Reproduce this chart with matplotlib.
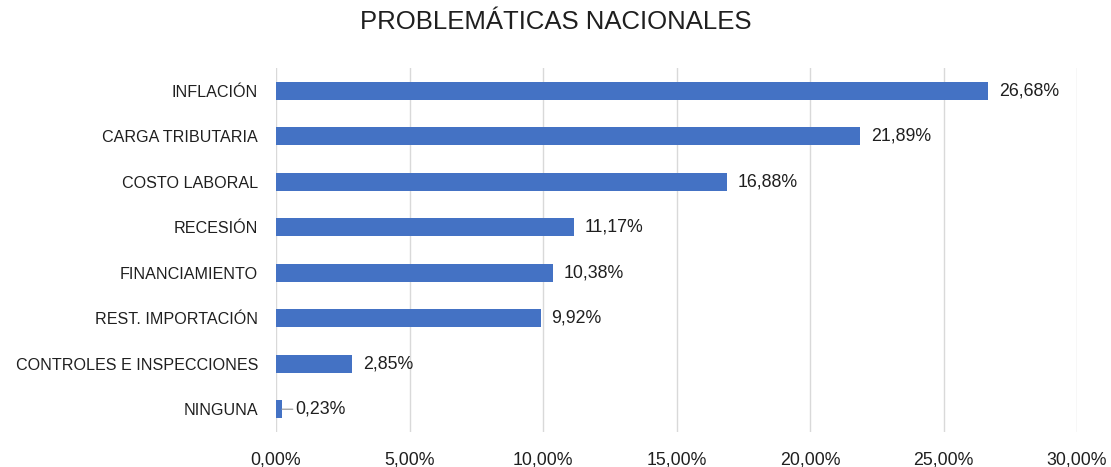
import matplotlib.pyplot as plt
from matplotlib.ticker import FuncFormatter

categories = ['INFLACIÓN', 'CARGA TRIBUTARIA', 'COSTO LABORAL', 'RECESIÓN',
              'FINANCIAMIENTO', 'REST. IMPORTACIÓN', 'CONTROLES E INSPECCIONES', 'NINGUNA']
values = [26.68, 21.89, 16.88, 11.17, 10.38, 9.92, 2.85, 0.23]
x_ticks = [0, 5, 10, 15, 20, 25, 30]

bar_color = '#4472C4'
text_color = '#1F1F1F'


def pct(v):
	return f'{v:.2f}%'.replace('.', ',')


plt.rcParams['font.family'] = ['Liberation Sans', 'DejaVu Sans']

fig = plt.figure(figsize=(11.11, 4.67), dpi=100)
ax = fig.add_axes((276/1111, 1-432/467, 801/1111, 364/467))

y_pos = list(range(len(categories)))
ax.barh(y_pos, values, height=0.4, color=bar_color, zorder=3)

for y, v in zip(y_pos, values):
	if v < 1:
		# small bar: label pushed out with a leader line like excel does
		ax.annotate(pct(v), xy=(v, y), xytext=(v+0.5, y), fontsize=12.8,
		            color=text_color, va='center', ha='left',
		            arrowprops=dict(arrowstyle='-', color='#A6A6A6', lw=1,
		                            shrinkA=0, shrinkB=0))
	else:
		ax.text(v+0.4, y, pct(v), fontsize=12.8, color=text_color,
		        va='center', ha='left')

ax.set_yticks(y_pos)
ax.set_yticklabels(categories, fontsize=11.6, color=text_color)
ax.set_ylim(len(categories)-0.5, -0.5)

ax.set_xlim(0, 30)
ax.set_xticks(x_ticks)
ax.xaxis.set_major_formatter(FuncFormatter(lambda v, _: pct(v)))
ax.tick_params(axis='x', labelsize=12.8, colors=text_color, length=0, pad=14)
ax.tick_params(axis='y', length=0, pad=13)
ax.grid(axis='x', color='#D9D9D9', linestyle='-', linewidth=1, zorder=0)

for spine in ax.spines.values():
	spine.set_visible(False)

fig.text(0.5, 1-22/467, 'PROBLEMÁTICAS NACIONALES', fontsize=18.5, color=text_color,
         ha='center', va='center')

fig.savefig('out.png', dpi=100)
